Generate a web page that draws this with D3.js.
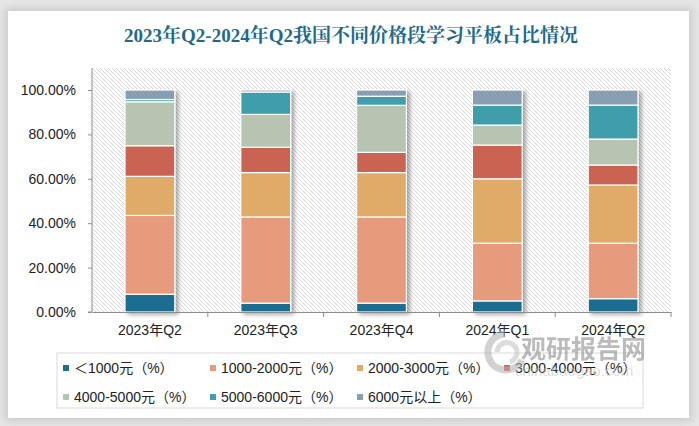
<!DOCTYPE html>
<html><head><meta charset="utf-8">
<script src="https://cdn.jsdelivr.net/npm/d3@7"></script>
<style>
html,body{margin:0;padding:0;background:#e9e9e9;}
#wrap{position:absolute;left:0;top:0;width:699px;height:426px;overflow:hidden;background:#e6e6e6;}
#card{position:absolute;left:8px;top:11px;width:681px;height:407px;background:#fff;box-shadow:0 0 8px 3px rgba(0,0,0,0.12);}
svg{position:absolute;left:0;top:0;}
</style></head>
<body><div id="wrap"><div id="card"></div><svg id="chart" width="699" height="426"></svg></div>
<script>
const title = "2023年Q2-2024年Q2我国不同价格段学习平板占比情况";
const categories = ["2023年Q2","2023年Q3","2023年Q4","2024年Q1","2024年Q2"];
const seriesNames = ["<1000元（%）","1000-2000元（%）","2000-3000元（%）","3000-4000元（%）","4000-5000元（%）","5000-6000元（%）","6000元以上（%）"];
const legendLabels = ["＜1000元（%）","1000-2000元（%）","2000-3000元（%）","3000-4000元（%）","4000-5000元（%）","5000-6000元（%）","6000元以上（%）"];
const below1000 = [8.0, 4.0, 4.0, 5.0, 6.0];
const r1000_2000 = [35.5, 38.8, 38.8, 26.0, 25.0];
const r2000_3000 = [17.6, 20.0, 20.0, 29.0, 26.2];
const r3000_4000 = [13.8, 11.4, 9.1, 15.2, 9.0];
const r4000_5000 = [19.8, 14.8, 21.2, 9.0, 11.7];
const r5000_6000 = [1.0, 10.1, 4.1, 9.0, 15.3];
const above6000 = [4.3, 0.9, 2.8, 6.8, 6.8];
const yTicks = [0,20,40,60,80,100];
const colors = ["#1c6d8f","#e69b7c","#e0aa69","#cb6453","#b8c4b2","#3f9eab","#889fb2"];

const seriesVals = [below1000,r1000_2000,r2000_3000,r3000_4000,r4000_5000,r5000_6000,above6000];
const rows = categories.map((c,i)=>{const o={cat:c}; seriesNames.forEach((s,j)=>o[s]=seriesVals[j][i]); return o;});
const stacked = d3.stack().keys(seriesNames)(rows);

const svg = d3.select("#chart");
const defs = svg.append("defs");
const pat = defs.append("pattern").attr("id","hatch").attr("patternUnits","userSpaceOnUse").attr("width",4).attr("height",4);
pat.append("rect").attr("width",4).attr("height",4).attr("fill","#fff");
pat.append("path").attr("d","M-1,-1L5,5M-1,3L1,5M3,-1L5,1").attr("stroke","#d4d4d4").attr("stroke-width",0.9);
const f = defs.append("filter").attr("id","sh").attr("x","-20%").attr("y","-10%").attr("width","150%").attr("height","130%");
f.append("feDropShadow").attr("dx",3).attr("dy",2).attr("stdDeviation",2).attr("flood-color","#000").attr("flood-opacity",0.35);

const L=92, R=671, T=68, B=312;
const x = d3.scaleBand().domain(categories).range([L,R]).paddingInner(0.57).paddingOuter(0.285);
const y = d3.scaleLinear().domain([0,100]).range([B,90]);

const font = "'Liberation Sans','Noto Sans CJK SC',sans-serif";

svg.append("text").attr("x",351).attr("y",42).attr("text-anchor","middle")
  .attr("font-family","'Liberation Serif','Noto Serif CJK SC','Noto Sans CJK SC',serif").attr("font-weight","bold")
  .attr("font-size",19).attr("fill","#1f6a8a").text(title);

svg.append("rect").attr("x",L).attr("y",T).attr("width",R-L).attr("height",B-T).attr("fill","url(#hatch)");

// bars
const barG = svg.append("g");
categories.forEach((c,i)=>{
  const g = barG.append("g").attr("filter","url(#sh)");
  stacked.forEach((s,j)=>{
    const d = s[i];
    g.append("rect").attr("x",x(c)).attr("width",x.bandwidth())
      .attr("y",y(d[1])).attr("height",Math.max(0,y(d[0])-y(d[1])))
      .attr("fill",colors[j]).attr("stroke","#fff").attr("stroke-width",1.2);
  });
});

// axes
const yAxis = svg.append("g").attr("transform",`translate(${L},0)`)
  .call(d3.axisLeft(y).tickValues(yTicks).tickSize(4).tickPadding(12).tickFormat(d=>d.toFixed(2)+"%"));
yAxis.select(".domain").attr("stroke","#8c8c8c").attr("d",`M-4,${B}H0V${T}`);
yAxis.selectAll(".tick line").attr("stroke","#8c8c8c");
yAxis.selectAll("text").attr("font-family",font).attr("font-size",14).attr("fill","#222");

const xAxis = svg.append("g").attr("transform",`translate(0,${B})`)
  .call(d3.axisBottom(x).tickSize(0).tickPadding(13));
xAxis.select(".domain").attr("stroke","#8c8c8c");
xAxis.selectAll("text").attr("font-family",font).attr("font-size",14).attr("fill","#222");
xAxis.selectAll(".sep").data(d3.range(1,categories.length+1)).enter().append("line")
  .attr("x1",d=>L+d*(R-L)/categories.length).attr("x2",d=>L+d*(R-L)/categories.length)
  .attr("y1",0).attr("y2",5).attr("stroke","#8c8c8c");

// legend
svg.append("rect").attr("x",57).attr("y",353).attr("width",586).attr("height",55).attr("fill","none").attr("stroke","#d9d9d9");
const lg = svg.append("g");
legendLabels.forEach((t,j)=>{
  const col = j%4, row = Math.floor(j/4);
  const lx = 63 + col*147, ly = 368 + row*29;
  lg.append("rect").attr("x",lx).attr("y",ly-3).attr("width",6).attr("height",6).attr("fill",colors[j]);
  lg.append("text").attr("x",lx+11).attr("y",ly+5).attr("font-family",font).attr("font-size",14).attr("fill","#222").text(t);
});

// watermark
const wm = svg.append("g").attr("opacity",0.6);
wm.append("path").attr("d","M505,334 A18,18 0 1,0 522,360").attr("fill","none").attr("stroke","#b5b5b5").attr("stroke-width",7);
wm.append("path").attr("d","M497,352 A10,10 0 1,1 510,362").attr("fill","none").attr("stroke","#c5c5c5").attr("stroke-width",5);
wm.append("text").attr("x",521).attr("y",358).attr("font-family","'Noto Sans CJK SC',sans-serif").attr("font-weight","bold")
  .attr("font-size",25).attr("fill","#8f8f8f").text("观研报告网");
wm.append("text").attr("x",515).attr("y",376).attr("font-family",font).attr("font-size",15).attr("fill","#c8c8c8").text("chinabaogao.com");
</script></body></html>
